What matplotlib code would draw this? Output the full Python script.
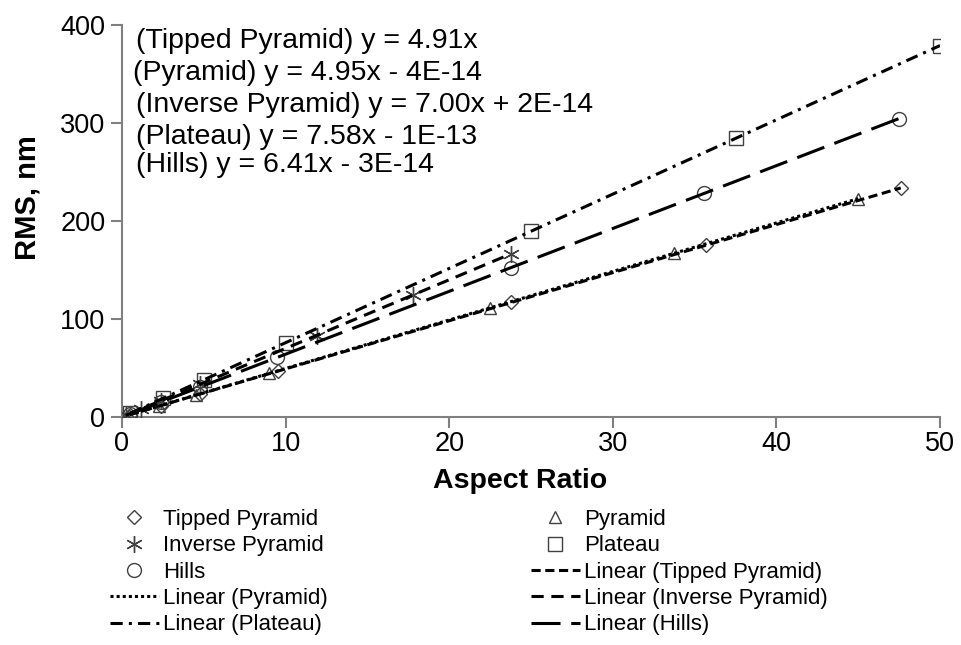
import numpy as np
import matplotlib
matplotlib.use("Agg")
import matplotlib.pyplot as plt

plt.rcParams['font.family'] = ['Liberation Sans', 'DejaVu Sans']

# ---- data ----
tipped_x = [0.48, 2.38, 4.76, 9.52, 23.8, 35.7, 47.6]
tipped_y = [2.4, 11.7, 23.4, 46.7, 116.9, 175.3, 233.7]
pyramid_x = [0.45, 2.25, 4.5, 9.0, 22.5, 33.75, 45.0]
pyramid_y = [2.2, 11.1, 22.3, 44.6, 111.4, 167.1, 222.8]
inverse_x = [0.24, 1.19, 2.38, 4.75, 11.9, 17.8, 23.75]
inverse_y = [1.7, 8.3, 16.6, 33.3, 83.1, 124.7, 166.3]
plateau_x = [0.5, 2.5, 5.0, 10.0, 25.0, 37.5, 50.0]
plateau_y = [3.8, 19.0, 37.9, 75.8, 189.5, 284.3, 379.0]
hills_x = [0.475, 2.38, 4.75, 9.5, 23.75, 35.6, 47.5]
hills_y = [3.0, 15.2, 30.4, 60.9, 152.2, 228.4, 304.5]

series_names = ["Tipped Pyramid", "Pyramid", "Inverse Pyramid", "Plateau", "Hills"]
equations = ["(Tipped Pyramid) y = 4.91x",
             "(Pyramid) y = 4.95x - 4E-14",
             "(Inverse Pyramid) y = 7.00x + 2E-14",
             "(Plateau) y = 7.58x - 1E-13",
             "(Hills) y = 6.41x - 3E-14"]
x_ticks = [0, 10, 20, 30, 40, 50]
y_ticks = [0, 100, 200, 300, 400]

W, H = 961, 645
fig = plt.figure(figsize=(W / 100, H / 100), dpi=100)
ax = fig.add_axes([122 / W, 1 - 417 / H, (940 - 122) / W, (417 - 25) / H])

xs = [tipped_x, pyramid_x, inverse_x, plateau_x, hills_x]
ys = [tipped_y, pyramid_y, inverse_y, plateau_y, hills_y]
markers = ['D', '^', (6, 2, 0), 's', 'o']
msizes = [7.5, 9, 12, 10, 10]
mcol = '#404040'

marker_handles = []
for x, y, m, ms, name in zip(xs, ys, markers, msizes, series_names):
    h, = ax.plot(x, y, linestyle='none', marker=m, markersize=ms,
                 markerfacecolor='none', markeredgecolor=mcol,
                 markeredgewidth=1.0, label=name, zorder=3)
    marker_handles.append(h)

dashes = [(3, 1.5), (1, 1), (4, 2.5), (4, 2, 1, 2), (9.5, 3.5)]
line_handles = []
for x, y, d, name in zip(xs, ys, dashes, series_names):
    k, b = np.polyfit(x, y, 1)
    xx = np.array([min(x), max(x)])
    h, = ax.plot(xx, k * xx + b, color='black', linewidth=2.2,
                 dashes=d, label='Linear (' + name + ')', zorder=4)
    line_handles.append(h)

ax.set_xlim(0, 50)
ax.set_ylim(0, 400)
ax.set_xticks(x_ticks)
ax.set_yticks(y_ticks)
for s in ['top', 'right']:
    ax.spines[s].set_visible(False)
for s in ['left', 'bottom']:
    ax.spines[s].set_color('#808080')
    ax.spines[s].set_linewidth(1.5)
ax.tick_params(direction='out', length=8, width=1.5, color='#808080',
               labelsize=19.5, pad=4)
ax.tick_params(axis='x', pad=2)
ax.set_xlabel('Aspect Ratio', fontsize=20.5, fontweight='bold')
ax.set_ylabel('RMS, nm', fontsize=21, fontweight='bold')
ax.xaxis.set_label_coords((520 - 122) / (940 - 122), -(468 - 417) / (417 - 25))
ax.yaxis.set_label_coords(-(122 - 42) / (940 - 122), (417 - 198) / (417 - 25))

eq_pos = [(136, 41), (133, 73), (136, 105), (136, 137), (136, 165)]
for (px, py), t in zip(eq_pos, equations):
    fig.text(px / W, 1 - py / H, t, fontsize=20.5, va='center', ha='left')

# legend: Excel order, 2 columns row-major
all_h = marker_handles + line_handles
col1 = [all_h[i] for i in (0, 2, 4, 6, 8)]
col2 = [all_h[i] for i in (1, 3, 5, 7, 9)]
leg_kw = dict(frameon=False, fontsize=16, handlelength=2.2, handletextpad=0.2,
              labelspacing=0.24, borderaxespad=0, borderpad=0)
leg1 = fig.legend(handles=col1, labels=[h.get_label() for h in col1],
                  loc='upper left', bbox_to_anchor=(110 / W, 1 - 509 / H), **leg_kw)
leg2 = fig.legend(handles=col2, labels=[h.get_label() for h in col2],
                  loc='upper left', bbox_to_anchor=(531 / W, 1 - 509 / H), **leg_kw)

fig.savefig('out.png', dpi=100)
